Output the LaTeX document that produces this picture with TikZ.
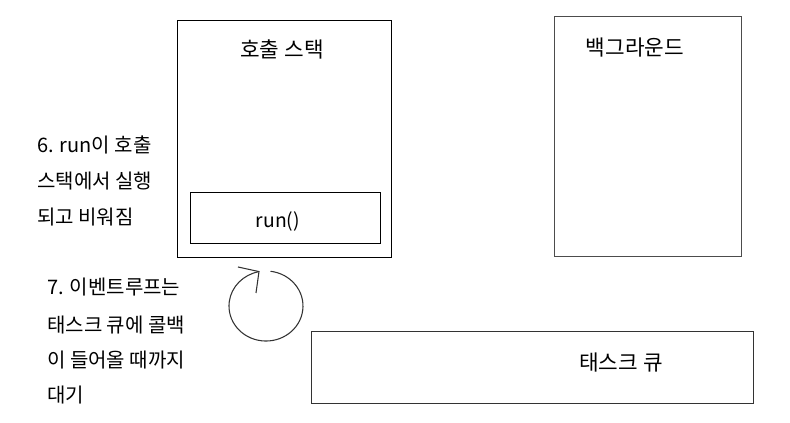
\documentclass[tikz,border=0pt]{standalone}
\usepackage{fontspec}
\setmainfont{Noto Sans CJK KR}
\begin{document}
\begin{tikzpicture}[x=0.75pt,y=0.75pt,
  box/.style={draw=#1,line width=0.9pt,inner sep=0pt,anchor=south west},
  box/.default=black,
  lbl/.style={font=\fontsize{16}{19}\selectfont,inner sep=0pt},
  side/.style={font=\fontsize{15}{18}\selectfont,inner sep=0pt,anchor=base west}]
\useasboundingbox (0,0) rectangle (790,423);
% call stack
\node[box,minimum width=160.5pt,minimum height=177.75pt] (stack) at (176.5,165) {};
\node[box,minimum width=142.9pt,minimum height=38.25pt] (runbox) at (189.5,179) {};
\node[lbl] (stacktitle) at (282,374) {호출 스택};
\node[font=\fontsize{14.5}{17}\selectfont,inner sep=0pt] (runtxt) at (278,202) {run()};
% background
\node[box=black!70,minimum width=140.25pt,minimum height=180pt] (bg) at (554,166) {};
\node[lbl] (bgtitle) at (635,375) {백그라운드};
% task queue
\node[box=black!80,minimum width=331.5pt,minimum height=54pt] (queue) at (311,19) {};
\node[lbl] (queuetitle) at (621,60) {태스크 큐};
% left texts
\node[side] (a1) at (37,270) {6. run이 호출};
\node[side] (a2) at (37,234) {스택에서 실행};
\node[side] (a3) at (37,198) {되고 비워짐};
\node[side] (b1) at (47,128) {7. 이벤트루프는};
\node[side] (b2) at (47,90) {태스크 큐에 콜백};
\node[side] (b3) at (47,55) {이 들어올 때까지};
\node[side] (b4) at (47,20) {대기};
% event loop circle arrow
\coordinate (start) at (270.5,151.7);
\coordinate (tip) at (259,151.4);
\draw[line width=0.8pt,black!80] (start) arc[start angle=83,end angle=-259,x radius=37,y radius=35];
\draw[line width=0.8pt,black!80] (238,156) -- (tip) -- (256,130);
\end{tikzpicture}
\end{document}
